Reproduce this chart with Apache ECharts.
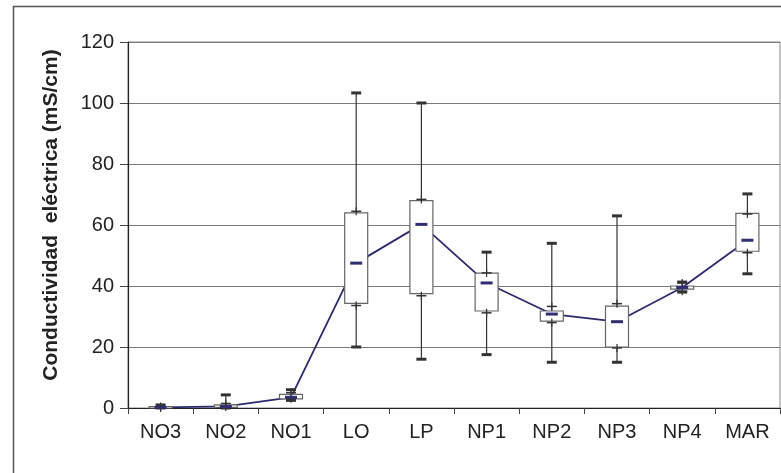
<!DOCTYPE html>
<html>
<head>
<meta charset="utf-8">
<script src="https://cdn.jsdelivr.net/npm/echarts@6/dist/echarts.min.js"></script>
<style>
html,body{margin:0;padding:0;background:#fff;}
#chart{width:781px;height:473px;}
</style>
</head>
<body>
<div id="chart"></div>
<script>
var categories = ['NO3','NO2','NO1','LO','LP','NP1','NP2','NP3','NP4','MAR'];
var minVals    = [0,    0,   2.5, 20,   16,   17.5, 15,   15,   38,   44];
var q1Vals     = [0,    0.2, 3,   34.3, 37.5, 31.8, 28.5, 20,   39,   51.4];
var medianVals = [0.2,  0.5, 3.5, 47.5, 60.2, 41,   30.8, 28.3, 39.5, 55];
var q3Vals     = [0.5,  1,   4.5, 64,   68,   44.2, 31.8, 33.4, 40,   63.8];
var maxVals    = [1,    4.3, 6,   103.3,100,  51.1, 54,   63,   41.3, 70.2];
var lowMarks   = [0,    0.3, 3,   33.6, 36.8, 31.2, 28,   19.7, 38.3, 50.9];
var highMarks  = [0.5,  1.5, 5,   64.5, 68.4, 44.3, 33.3, 34.2, 41,   63.6];
var yTicks     = [0, 20, 40, 60, 80, 100, 120];

var boxData = categories.map(function (c, i) {
  return [i, minVals[i], q1Vals[i], medianVals[i], q3Vals[i], maxVals[i], lowMarks[i], highMarks[i]];
});

function renderBox(params, api) {
  var idx = api.value(0);
  var p = function (k) { return api.coord([idx, api.value(k)]); };
  var pMin = p(1), pQ1 = p(2), pMed = p(3), pQ3 = p(4), pMax = p(5), pLo = p(6), pHi = p(7);
  var cx = pMed[0];
  var bw = 23, cw = 10, mw = 12, tw = 10;
  var dark = '#333';
  var children = [
    {type: 'line', shape: {x1: cx, y1: pMax[1], x2: cx, y2: pMin[1]}, style: {stroke: dark, lineWidth: 1.2}},
    {type: 'rect', shape: {x: cx - bw / 2, y: pQ3[1], width: bw, height: Math.max(pQ1[1] - pQ3[1], 1)},
      style: {fill: '#fff', stroke: '#666', lineWidth: 1.2}},
    {type: 'line', shape: {x1: cx - tw / 2, y1: pHi[1], x2: cx + tw / 2, y2: pHi[1]}, style: {stroke: dark, lineWidth: 1.5}},
    {type: 'line', shape: {x1: cx, y1: pHi[1] - 4, x2: cx, y2: pHi[1] + 4}, style: {stroke: dark, lineWidth: 1.2}},
    {type: 'line', shape: {x1: cx - tw / 2, y1: pLo[1], x2: cx + tw / 2, y2: pLo[1]}, style: {stroke: dark, lineWidth: 1.5}},
    {type: 'line', shape: {x1: cx, y1: pLo[1] - 4, x2: cx, y2: pLo[1] + 4}, style: {stroke: dark, lineWidth: 1.2}},
    {type: 'rect', shape: {x: cx - cw / 2, y: pMax[1] - 1.5, width: cw, height: 3}, style: {fill: dark}},
    {type: 'rect', shape: {x: cx - cw / 2, y: pMin[1] - 1.5, width: cw, height: 3}, style: {fill: dark}},
    {type: 'rect', shape: {x: cx - mw / 2, y: pMed[1] - 1.5, width: mw, height: 3}, style: {fill: '#2E2E72'}}
  ];
  return {type: 'group', children: children};
}

var chart = echarts.init(document.getElementById('chart'), null, {renderer: 'canvas'});
chart.setOption({
  animation: false,
  backgroundColor: '#fff',
  textStyle: {fontFamily: '"Liberation Sans", Arial, sans-serif'},
  grid: {left: 128, right: 1, top: 42, bottom: 65, show: true, borderColor: '#888', borderWidth: 1, backgroundColor: 'transparent'},
  graphic: [
    {type: 'rect', shape: {x: 13.5, y: 6.5, width: 800, height: 500}, style: {fill: null, stroke: '#555', lineWidth: 1.5}, silent: true, z: 0},
    {type: 'text', x: 51, y: 215, rotation: Math.PI / 2,
      style: {text: 'Conductividad  eléctrica (mS/cm)', font: 'bold 21px "Liberation Sans", Arial, sans-serif',
        fill: '#222', textAlign: 'center', textVerticalAlign: 'middle'}, z: 10}
  ],
  xAxis: {
    type: 'category',
    data: categories,
    boundaryGap: true,
    axisLine: {lineStyle: {color: '#222', width: 1.2}},
    axisTick: {show: true, alignWithLabel: false, length: 6, lineStyle: {color: '#444'}},
    axisLabel: {fontSize: 20, color: '#222', margin: 14, interval: 0},
    splitLine: {show: false}
  },
  yAxis: {
    type: 'value',
    min: yTicks[0],
    max: yTicks[yTicks.length - 1],
    interval: 20,
    axisLine: {show: true, lineStyle: {color: '#222', width: 1.2}},
    axisTick: {show: true, length: 8, lineStyle: {color: '#444'}},
    axisLabel: {fontSize: 20, color: '#222', margin: 14},
    splitLine: {show: true, lineStyle: {color: '#7a7a7a', width: 1.2}}
  },
  series: [
    {
      type: 'line',
      data: medianVals,
      symbol: 'none',
      lineStyle: {color: '#2B2B6E', width: 1.8},
      z: 2
    },
    {
      type: 'custom',
      data: boxData,
      renderItem: renderBox,
      encode: {x: 0, y: [1, 5]},
      z: 3
    }
  ]
});
</script>
</body>
</html>
